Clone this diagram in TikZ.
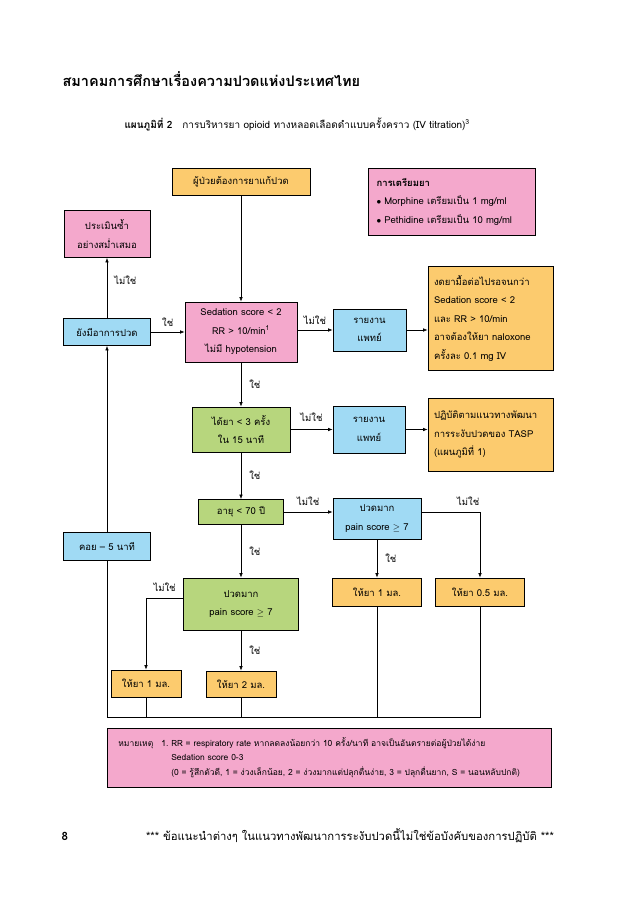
\documentclass[tikz,border=0pt]{standalone}
\usepackage{fontspec}
\setmainfont[Script=Thai]{Loma}
\usetikzlibrary{arrows.meta}

\definecolor{boxpink}{RGB}{244,168,204}
\definecolor{boxyellow}{RGB}{252,203,110}
\definecolor{boxblue}{RGB}{160,218,244}
\definecolor{boxgreen}{RGB}{183,214,125}

\newcommand{\boxfont}{\fontsize{9.5}{18.5}\selectfont}
\newcommand{\notefont}{\fontsize{8.5}{14.5}\selectfont}
\newcommand{\titlefont}{\fontsize{14.5}{18}\selectfont\bfseries}

\begin{document}
\begin{tikzpicture}[x=1pt,y=-1pt,
	box/.style={draw=black,line width=0.7pt,inner sep=0pt,align=center,font=\boxfont},
	pinkbox/.style={box,fill=boxpink},
	yellowbox/.style={box,fill=boxyellow},
	bluebox/.style={box,fill=boxblue},
	greenbox/.style={box,fill=boxgreen},
	lbl/.style={font=\boxfont,inner sep=0pt},
	arr/.style={-{Latex[length=4.5pt,width=3.5pt]},line width=0.6pt},
	ln/.style={line width=0.6pt}]
	\useasboundingbox (0,0) rectangle (638,903);
	% header
	\node[anchor=west,font=\titlefont] (title) at (59,79) {สมาคมการศึกษาเรื่องความปวดแห่งประเทศไทย};
	\node[anchor=west,font=\fontsize{10}{12}\selectfont] (sub) at (121,124) {\textbf{แผนภูมิที่ 2}\quad การบริหารยา opioid ทางหลอดเลือดดำแบบครั้งคราว (IV titration)\textsuperscript{3}};
	% boxes, top part
	\node[yellowbox,minimum width=138pt,minimum height=27pt] (need) at (241,181.5) {ผู้ป่วยต้องการยาแก้ปวด};
	\node[pinkbox,minimum width=167pt,minimum height=67pt,align=left,text width=150pt] (prep) at (451.5,201.5) {\textbf{การเตรียมยา}\\ $\bullet$ Morphine เตรียมเป็น 1 mg/ml\\ $\bullet$ Pethidine เตรียมเป็น 10 mg/ml};
	\node[pinkbox,minimum width=86pt,minimum height=47pt] (recheck) at (107,234) {ประเมินซ้ำ\\อย่างสม่ำเสมอ};
	\node[bluebox,minimum width=87pt,minimum height=27pt] (pain) at (107,332) {ยังมีอาการปวด};
	\node[pinkbox,minimum width=112pt,minimum height=60pt] (sed) at (241,332) {Sedation score < 2\\RR > 10/min\textsuperscript{1}\\ไม่มี hypotension};
	\node[bluebox,minimum width=73pt,minimum height=42pt] (rep1) at (369.5,330) {รายงาน\\แพทย์};
	\node[yellowbox,minimum width=125pt,minimum height=104pt,align=left,text width=113pt] (stop) at (490.5,318) {งดยามื้อต่อไปรอจนกว่า\\Sedation score < 2\\และ RR > 10/min\\อาจต้องให้ยา naloxone\\ครั้งละ 0.1 mg IV};
	% middle part
	\node[greenbox,minimum width=98pt,minimum height=45pt] (dose3) at (241,429.5) {ได้ยา < 3 ครั้ง\\ใน 15 นาที};
	\node[bluebox,minimum width=72pt,minimum height=47pt] (rep2) at (369,429.5) {รายงาน\\แพทย์};
	\node[yellowbox,minimum width=125pt,minimum height=73pt,align=left,text width=113pt] (tasp) at (490.5,434.5) {ปฏิบัติตามแนวทางพัฒนา\\การระงับปวดของ TASP\\(แผนภูมิที่ 1)};
	\node[greenbox,minimum width=85pt,minimum height=25pt] (age) at (241,512) {อายุ < 70 ปี};
	\node[bluebox,minimum width=87pt,minimum height=28pt] (wait) at (107,546) {คอย -- 5 นาที};
	\node[bluebox,minimum width=88pt,minimum height=41pt] (painR) at (377,518.5) {ปวดมาก\\pain score \ensuremath{\geq} 7};
	% bottom part
	\node[greenbox,minimum width=115pt,minimum height=52pt] (painL) at (241,604) {ปวดมาก\\pain score \ensuremath{\geq} 7};
	\node[yellowbox,minimum width=89pt,minimum height=28pt] (giveR) at (377,592) {ให้ยา 1 มล.};
	\node[yellowbox,minimum width=89pt,minimum height=28pt] (giveH) at (480,592) {ให้ยา 0.5 มล.};
	\node[yellowbox,minimum width=70pt,minimum height=27pt] (giveL) at (146,683.5) {ให้ยา 1 มล.};
	\node[yellowbox,minimum width=70pt,minimum height=26pt] (giveT) at (241,684) {ให้ยา 2 มล.};
	\node[pinkbox,anchor=north west,minimum height=59pt,inner xsep=11pt,text width=422pt,align=left,font=\notefont] (note) at (107,728) {%
		\begin{tabular}{@{}l@{\hspace{8pt}}l@{}}
			หมายเหตุ & 1.\ RR = respiratory rate หากลดลงน้อยกว่า 10 ครั้ง/นาที อาจเป็นอันตรายต่อผู้ป่วยได้ง่าย\\
			& \phantom{1.\ }Sedation score 0-3\\
			& \phantom{1.\ }(0 = รู้สึกตัวดี, 1 = ง่วงเล็กน้อย, 2 = ง่วงมากแต่ปลุกตื่นง่าย, 3 = ปลุกตื่นยาก, S = นอนหลับปกติ)
		\end{tabular}};
	% footer
	\node[anchor=west,font=\fontsize{11.5}{13}\selectfont\bfseries] (pg) at (58,836) {8};
	\node[font=\fontsize{11.3}{13}\selectfont] (foot) at (350,836) {*** ข้อแนะนำต่างๆ ในแนวทางพัฒนาการระงับปวดนี้ไม่ใช่ข้อบังคับของการปฏิบัติ ***};
	% connectors
	\draw[arr] (need) -- (sed);
	\draw[arr] (pain) -- node[lbl,midway,above=5pt] {ใช่} (sed);
	\draw[arr] (pain) -- node[lbl,midway,right=7pt,yshift=8pt] {ไม่ใช่} (recheck);
	\draw[arr] (sed.east |- rep1) -- node[lbl,midway,above=5pt] {ไม่ใช่} (rep1);
	\draw[arr] (rep1.east) -- (rep1.east -| stop.west);
	\draw[arr] (sed) -- node[lbl,midway,right=8pt] {ใช่} (dose3);
	\draw[arr] (dose3) -- node[lbl,midway,above=8pt] {ไม่ใช่} (rep2);
	\draw[arr] (rep2.east) -- (rep2.east -| tasp.west);
	\draw[arr] (dose3) -- node[lbl,midway,right=8pt] {ใช่} (age);
	\draw[arr] (age.east) -- node[lbl,midway,above=6pt] {ไม่ใช่} (age.east -| painR.west);
	\draw[arr] (age.east -| painR.east) -| node[lbl,pos=0.4,above=6pt] {ไม่ใช่} (giveH);
	\draw[arr] (painR) -- node[lbl,midway,right=8pt] {ใช่} (giveR);
	\draw[arr] (age) -- node[lbl,midway,right=8pt] {ใช่} (painL);
	\draw[arr] ([yshift=6pt]painL.west) -| node[lbl,pos=0.25,above=6pt] {ไม่ใช่} (giveL);
	\draw[arr] (painL) -- node[lbl,midway,right=8pt] {ใช่} (giveT);
	% loop back
	\coordinate (loop) at (107,717);
	\draw[ln] (giveH.south) |- (loop) -- (wait.south);
	\draw[ln] (giveR.south) -- (giveR.south |- loop);
	\draw[ln] (giveT.south) -- (giveT.south |- loop);
	\draw[ln] (giveL.south) -- (giveL.south |- loop);
	\draw[arr] (wait) -- (pain);
\end{tikzpicture}
\end{document}
